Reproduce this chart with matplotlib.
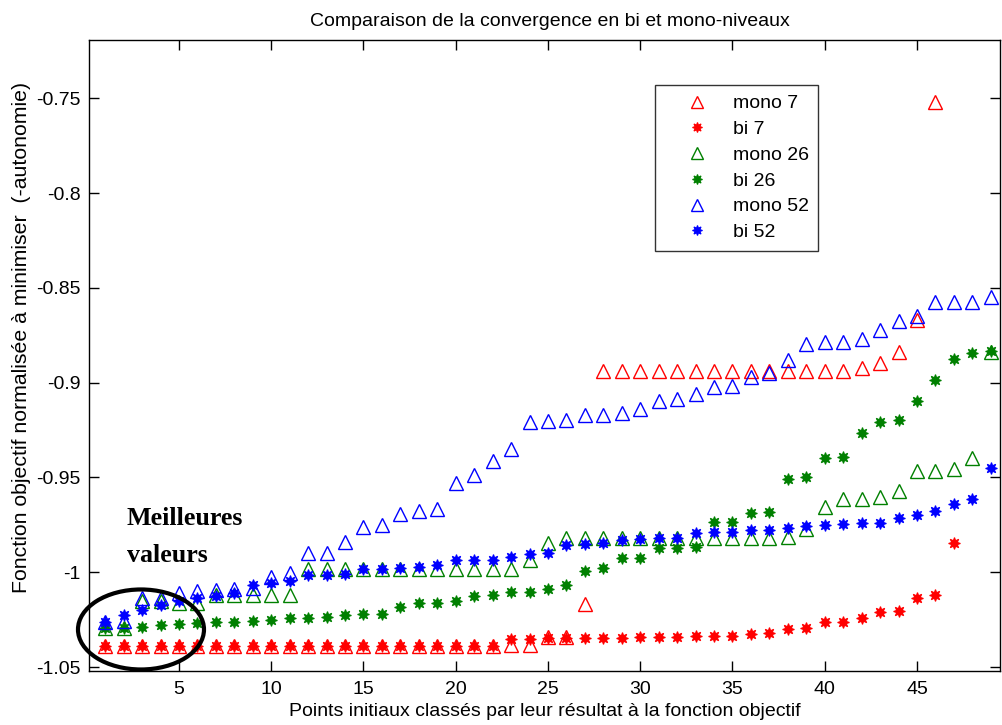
import matplotlib
matplotlib.use("Agg")
import matplotlib.pyplot as plt
from matplotlib.patches import Ellipse
import numpy as np

plt.rcParams['font.family'] = ['Liberation Sans', 'DejaVu Sans']

mono7 = [-1.039]*22 + [-1.0385, -1.0385, -1.034, -1.034, -1.017] + [-0.894]*14 + \
        [-0.8925, -0.8895, -0.884, -0.867, -0.752]
bi7 = [-1.039]*22 + [-1.0352, -1.0350, -1.0348, -1.0346, -1.0346, -1.0345, -1.0345, -1.0344,
                     -1.0342, -1.034, -1.0338, -1.0336, -1.0336, -1.0324, -1.0318, -1.0297,
                     -1.0296, -1.0264, -1.0263, -1.0243, -1.0212, -1.0203, -1.0138, -1.012,
                     -0.9847]
mono26 = [-1.0296, -1.0296, -1.015, -1.015, -1.016, -1.016] + [-1.012]*5 + [-0.9985]*12 + \
         [-0.9936, -0.9848] + [-0.9818]*12 + \
         [-0.9813, -0.9774, -0.9658, -0.9616, -0.9616, -0.9605, -0.9573, -0.9466, -0.9466,
          -0.9458, -0.9395, -0.884]
bi26 = [-1.0296, -1.0296, -1.0287, -1.0278, -1.0273, -1.0269, -1.0261, -1.0261, -1.0257,
        -1.0252, -1.0243, -1.0243, -1.0234, -1.0226, -1.022, -1.022, -1.0182, -1.0164,
        -1.0164, -1.015, -1.0125, -1.012, -1.0106, -1.0106, -1.009, -1.0067, -0.9992,
        -0.998, -0.9927, -0.9927, -0.9874, -0.9874, -0.9866, -0.9735, -0.9735, -0.969,
        -0.9684, -0.951, -0.9496, -0.9399, -0.9394, -0.9268, -0.921, -0.9198, -0.9096,
        -0.8984, -0.8877, -0.8846, -0.8832]
mono52 = [-1.0261, -1.0255, -1.0137, -1.0137, -1.0112, -1.0101, -1.0096, -1.009, -1.0085,
          -1.0024, -1.0003, -0.9897, -0.9897, -0.9838, -0.9763, -0.9752, -0.9692, -0.9678,
          -0.9669, -0.9527, -0.9488, -0.9414, -0.9348, -0.921, -0.9202, -0.9198, -0.9172,
          -0.9172, -0.916, -0.9139, -0.9096, -0.9084, -0.9058, -0.9022, -0.9019, -0.8973,
          -0.8947, -0.8882, -0.8797, -0.8788, -0.8788, -0.8771, -0.872, -0.8676, -0.865,
          -0.8577, -0.8577, -0.8574, -0.855]
bi52 = [-1.0261, -1.0226, -1.02, -1.0173, -1.015, -1.0134, -1.0126, -1.0109, -1.0068,
        -1.0056, -1.0047, -1.0017, -1.0017, -1.0008, -0.9985, -0.9985, -0.9978, -0.9971,
        -0.9963, -0.9937, -0.9937, -0.9937, -0.9918, -0.9903, -0.9901, -0.9857, -0.9852,
        -0.9845, -0.9829, -0.9824, -0.9819, -0.9819, -0.9793, -0.979, -0.979, -0.9777,
        -0.9777, -0.9768, -0.9757, -0.9749, -0.9745, -0.974, -0.974, -0.9715, -0.9697,
        -0.9678, -0.9639, -0.9612, -0.9448]

series = [("mono 7", mono7, "red", "mono"), ("bi 7", bi7, "red", "bi"),
          ("mono 26", mono26, "#008000", "mono"), ("bi 26", bi26, "#008000", "bi"),
          ("mono 52", mono52, "blue", "mono"), ("bi 52", bi52, "blue", "bi")]

xticks = [5, 10, 15, 20, 25, 30, 35, 40, 45]
yticks = [-1.05, -1.0, -0.95, -0.9, -0.85, -0.8, -0.75]
ytick_labels = ["-1.05", "-1", "-0.95", "-0.9", "-0.85", "-0.8", "-0.75"]

fig = plt.figure(figsize=(10.03, 7.25), dpi=100)
L, R, T, B = 89, 1000, 40, 671
ax = fig.add_axes([L/1003, 1 - B/725, (R-L)/1003, (B-T)/725])

star = (8, 1, 0)
for name, vals, col, kind in series:
    x = np.arange(1, len(vals) + 1)
    if kind == "mono":
        ax.plot(x, vals, linestyle='none', marker='^', markersize=9.5,
                markerfacecolor='none', markeredgecolor=col, markeredgewidth=1.0, label=name)
    else:
        ax.plot(x, vals, linestyle='none', marker=star, markersize=8.5,
                markerfacecolor=col, markeredgecolor=col, markeredgewidth=0.8, label=name)

ax.set_xlim(0.122, 49.5)
ax.set_ylim(-1.0521, -0.7193)
ax.set_xticks(xticks)
ax.set_yticks(yticks)
ax.set_yticklabels(ytick_labels)
ax.tick_params(direction='in', length=7, width=1, top=True, right=True,
               labelsize=14, colors='black')
ax.tick_params(axis='x', pad=7)
ax.tick_params(axis='y', pad=6)
for s in ax.spines.values():
    s.set_linewidth(1.0)
    s.set_color('black')

ax.set_xlabel("Points initiaux classés par leur résultat à la fonction objectif",
              fontsize=14, labelpad=4)
fig.text(22/1003, 1 - 337/725, "Fonction objectif normalisée à minimiser  (-autonomie)",
         rotation=90, ha='center', va='center', fontsize=15.3)
fig.text(550/1003, 1 - 21/725, "Comparaison de la convergence en bi et mono-niveaux",
         ha='center', va='center', fontsize=14)

leg = ax.legend(loc='upper left', bbox_to_anchor=((655-L)/(R-L), (B-85)/(B-T)),
                frameon=True, fancybox=False, edgecolor='black', fontsize=14,
                handlelength=3.3, handletextpad=0.2, borderpad=0.5,
                labelspacing=0.42, borderaxespad=0.0, markerscale=0.85)
leg.get_frame().set_linewidth(1.0)

ell = Ellipse((2.94, -1.0302), width=6.83, height=0.0422, fill=False,
              edgecolor='black', linewidth=3.0, clip_on=False, zorder=5)
ax.add_patch(ell)

ax.text((126.7-L)/(R-L), (B-525)/(B-T), "Meilleures", transform=ax.transAxes,
        fontsize=18.7, fontweight='bold', family='Liberation Serif', va='baseline', ha='left')
ax.text((126.7-L)/(R-L), (B-561.7)/(B-T), "valeurs", transform=ax.transAxes,
        fontsize=18.7, fontweight='bold', family='Liberation Serif', va='baseline', ha='left')

fig.savefig("out.png", dpi=100)
